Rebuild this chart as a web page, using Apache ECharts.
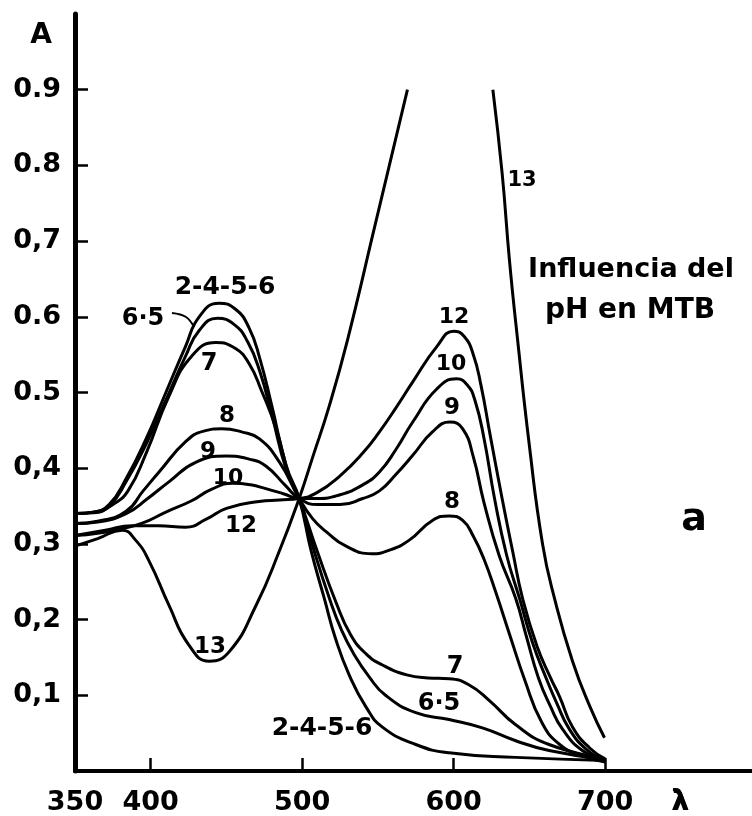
<!DOCTYPE html>
<html>
<head>
<meta charset="utf-8">
<script src="https://cdn.jsdelivr.net/npm/echarts@6/dist/echarts.min.js"></script>
<style>
html,body{margin:0;padding:0;background:#fff;}
#chart{width:752px;height:816px;}
</style>
</head>
<body>
<div id="chart"></div>
<script>
// ---- data (wavelength nm, absorbance) ----
var xTickValues = [400, 500, 600, 700];
var xLabelValues = [350, 400, 500, 600, 700, 750];
var xLabelText = {350: '350', 400: '400', 500: '500', 600: '600', 700: '700', 750: 'λ'};
var yTickValues = [0.1, 0.2, 0.3, 0.4, 0.5, 0.6, 0.7, 0.8, 0.9];
var yLabelText = ['0,1', '0,2', '0,3', '0,4', '0.5', '0.6', '0,7', '0.8', '0.9'];

var pH2456 = [[350,0.340],[362,0.342],[372.5,0.352],[383.7,0.386],[397,0.439],[410,0.50],[423,0.561],[432,0.60],[445,0.618],[456,0.610],[465,0.585],[472,0.545],[480,0.482],[489.5,0.403],[498,0.36],[506,0.29],[514.6,0.228],[522,0.175],[531,0.127],[542,0.085],[553,0.058],[575,0.035],[597,0.024],[641,0.018],[700,0.014]];
var pH65 = [[350,0.340],[362,0.341],[372.5,0.350],[383.7,0.382],[397,0.432],[410,0.49],[423,0.548],[432,0.582],[444,0.598],[455,0.590],[464,0.567],[472,0.528],[480,0.47],[489.5,0.398],[498,0.36],[508,0.29],[518,0.228],[526,0.186],[534,0.155],[544,0.125],[555,0.10],[575,0.077],[597,0.068],[619,0.057],[641,0.04],[663,0.027],[700,0.015]];
var pH7 = [[350,0.340],[365,0.343],[375,0.352],[385,0.37],[397,0.42],[412,0.495],[427,0.548],[443,0.566],[456,0.558],[465,0.538],[473,0.503],[482.8,0.452],[491.4,0.39],[498,0.36],[510,0.29],[522.5,0.222],[532,0.18],[542,0.155],[553,0.14],[569,0.127],[583,0.123],[597,0.122],[610,0.114],[623.6,0.093],[641,0.061],[663,0.035],[700,0.016]];
var pH8 = [[350,0.327],[365,0.33],[383.7,0.343],[395,0.37],[405.5,0.395],[423,0.435],[435,0.449],[447,0.452],[460,0.448],[471.6,0.439],[485,0.408],[498,0.36],[507,0.333],[516,0.316],[529,0.297],[546,0.287],[558,0.292],[570.7,0.305],[586,0.331],[597,0.337],[606,0.331],[613,0.31],[620,0.28],[628,0.235],[637,0.18],[647,0.12],[658,0.065],[670,0.035],[685,0.02],[700,0.012]];
var pH9 = [[350,0.327],[365,0.329],[383.7,0.34],[398,0.36],[412,0.382],[430,0.408],[450,0.416],[465,0.412],[476,0.403],[489,0.377],[498,0.36],[510,0.352],[525,0.352],[540,0.36],[551,0.37],[562,0.392],[573,0.417],[586,0.448],[597.6,0.461],[606,0.452],[613,0.415],[620,0.355],[630,0.285],[641,0.228],[648,0.178],[656,0.123],[664,0.085],[672,0.055],[685,0.027],[700,0.013]];
var pH10 = [[350,0.311],[365,0.314],[380,0.32],[394,0.327],[410,0.342],[427,0.357],[440,0.372],[454,0.38],[466,0.378],[476,0.373],[488,0.366],[498,0.36],[510,0.36],[525,0.365],[540,0.378],[551,0.395],[562,0.425],[573,0.461],[589,0.505],[602,0.518],[609,0.51],[614,0.49],[620,0.44],[627,0.36],[635,0.285],[643.5,0.228],[652,0.17],[661,0.123],[668,0.09],[676.5,0.055],[688,0.028],[700,0.014]];
var pH12 = [[350,0.311],[370,0.318],[387.7,0.324],[405,0.324],[423,0.322],[437,0.333],[450,0.347],[471.6,0.356],[485,0.358],[498,0.36],[510,0.368],[525,0.39],[540,0.42],[551,0.448],[562,0.48],[573,0.514],[589,0.561],[600,0.581],[607,0.574],[613,0.55],[618,0.51],[624,0.445],[632,0.36],[639,0.29],[645.5,0.228],[655,0.165],[664,0.123],[670,0.098],[678.5,0.058],[690,0.03],[700,0.016]];
var pH13a = [[350,0.297],[365,0.307],[381,0.318],[390,0.305],[399,0.277],[412,0.219],[425,0.167],[438.6,0.145],[452,0.158],[469.6,0.219],[484.8,0.29],[498,0.36],[507,0.415],[518,0.483],[530,0.57],[548,0.72],[569.5,0.9]];
var pH13b = [[625.9,0.9],[632,0.79],[636.8,0.676],[642,0.574],[650,0.43],[658.7,0.3],[666.6,0.228],[678.5,0.145],[690,0.085],[699.6,0.044]];

var curves = [pH2456, pH65, pH7, pH8, pH9, pH10, pH12, pH13a, pH13b];

var FONT = '"DejaVu Sans", sans-serif';
function label(text, x, y, size) {
  return {
    type: 'text', x: x, y: y, silent: true,
    style: {text: text, fill: '#000', font: 'bold ' + size + 'px ' + FONT,
            align: 'center', verticalAlign: 'middle', textAlign: 'center', textVerticalAlign: 'middle'}
  };
}

var chart = echarts.init(document.getElementById('chart'), null, {renderer: 'canvas'});
chart.setOption({
  animation: false,
  backgroundColor: '#fff',
  grid: {left: 75, top: 14, width: 677, height: 760, containLabel: false},
  xAxis: {
    type: 'value', min: 350, max: 797,
    splitLine: {show: false},
    axisLine: {lineStyle: {color: '#000', width: 4}},
    axisTick: {inside: true, length: 13, lineStyle: {color: '#000', width: 2.5}, customValues: xTickValues},
    axisLabel: {customValues: xLabelValues, margin: 18, color: '#000', fontFamily: FONT, fontWeight: 'bold', fontSize: 27,
                formatter: function (v) { return xLabelText[v] || ''; }}
  },
  yAxis: {
    type: 'value', min: 0, max: 1,
    splitLine: {show: false},
    axisLine: {lineStyle: {color: '#000', width: 5}},
    axisTick: {inside: true, length: 13, lineStyle: {color: '#000', width: 2.5}, customValues: yTickValues},
    axisLabel: {customValues: yTickValues, margin: 14, color: '#000', fontFamily: FONT, fontWeight: 'bold', fontSize: 27,
                formatter: function (v) { var i = Math.round(v * 10) - 1; return yLabelText[i] || ''; }}
  },
  series: curves.map(function (d) {
    return {type: 'line', data: d, showSymbol: false, smooth: 0.5,
            lineStyle: {color: '#000', width: 3}, silent: true};
  }),
  graphic: [
    label('A', 41, 36, 28),
    label('λ', 680, 803, 28),
    label('2-4-5-6', 225, 287, 25),
    label('6·5', 143, 319, 24),
    label('7', 209, 364, 24),
    label('8', 227, 416, 23),
    label('9', 208, 452, 23),
    label('10', 228, 478, 22),
    label('12', 241, 526, 23),
    label('13', 210, 647, 23),
    label('13', 522, 181, 21),
    label('12', 454, 317, 22),
    label('10', 451, 364, 22),
    label('9', 452, 408, 23),
    label('8', 452, 502, 23),
    label('7', 455, 667, 24),
    label('6·5', 439, 704, 24),
    label('2-4-5-6', 322, 728, 25),
    label('Influencia del', 631, 270, 27),
    label('pH en MTB', 630, 311, 28),
    label('a', 694, 520, 38),
    {type: 'polyline', silent: true, shape: {points: [[172, 313], [186, 317], [194, 327]], smooth: 0.4},
     style: {stroke: '#000', lineWidth: 2, fill: null}}
  ]
});
</script>
</body>
</html>
